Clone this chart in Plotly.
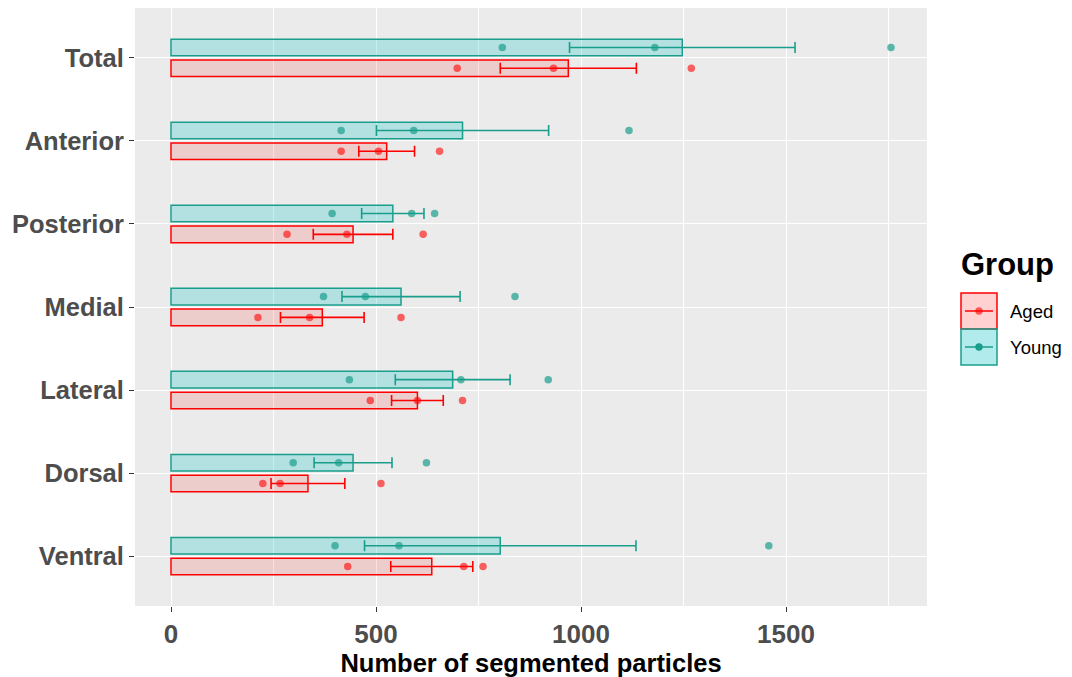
import plotly.graph_objects as go

# ---------------- data ----------------
categories = ["Total", "Anterior", "Posterior", "Medial", "Lateral", "Dorsal", "Ventral"]
groups = ["Aged", "Young"]

aged_mean = [969, 526, 444, 369, 601, 334, 636]
aged_se = [166, 68, 97, 102, 63, 90, 100]
young_mean = [1247, 711, 541, 561, 687, 444, 803]
young_se = [275, 210, 76, 144, 140, 95, 331]

aged_points = [
    [698, 933, 1269],
    [415, 506, 655],
    [283, 429, 615],
    [212, 338, 561],
    [486, 601, 711],
    [224, 266, 512],
    [431, 714, 761],
]
young_points = [
    [808, 1180, 1756],
    [415, 592, 1117],
    [393, 587, 643],
    [372, 474, 839],
    [435, 707, 920],
    [298, 409, 623],
    [400, 556, 1458],
]

x_ticks = [0, 500, 1000, 1500]
x_title = "Number of segmented particles"
legend_title = "Group"

# ---------------- styling ----------------
FONT = "Liberation Sans, Arial, sans-serif"
RED = "#FF0000"
TEAL = "#1A9E8C"
RED_FILL = "rgba(255,0,0,0.13)"
TEAL_FILL = "rgba(0,190,190,0.24)"
RED_PT = "rgba(255,0,0,0.6)"
TEAL_PT = "rgba(26,158,140,0.7)"

# page body has an 8px margin; size the figure so the panel lands where
# the reference has it
OFF = 8
W, H = 1072 - OFF, 677 - OFF
ML, MR, MT, MB = 135 - OFF, 145, 0, 71
PW, PH = W - ML - MR, H - MT - MB

n = len(categories)
pos = [n - 1 - i for i in range(n)]  # Total at the top
dodge = 0.125
bar_w = 0.2

y_aged = [p - dodge for p in pos]
y_young = [p + dodge for p in pos]

fig = go.Figure()

specs = [
    ("Aged", aged_mean, aged_se, aged_points, y_aged, RED, RED_FILL, RED_PT),
    ("Young", young_mean, young_se, young_points, y_young, TEAL, TEAL_FILL, TEAL_PT),
]

for name, mean, se, pts, ys, line_c, fill_c, pt_c in specs:
    fig.add_trace(go.Bar(
        name=name, x=mean, y=ys, orientation="h", width=bar_w,
        marker=dict(color=fill_c, line=dict(color=line_c, width=1.5)),
        error_x=dict(type="data", array=se, visible=True, color=line_c,
                     thickness=1.6, width=5.5),
        showlegend=False, hoverinfo="x+name",
    ))

for name, mean, se, pts, ys, line_c, fill_c, pt_c in specs:
    px_, py_ = [], []
    for yy, row in zip(ys, pts):
        for v in row:
            px_.append(v)
            py_.append(yy)
    fig.add_trace(go.Scatter(
        name=name, x=px_, y=py_, mode="markers",
        marker=dict(color=pt_c, size=7.5, line=dict(width=0)),
        showlegend=False,
    ))

# x range like ggplot's 5% expansion of [0, max]
all_max = max(max(r) for r in aged_points + young_points)
all_max = max(all_max, max(m + s for m, s in zip(young_mean, young_se)))
pad = 0.05 * all_max
x_range = [-pad, all_max + pad]

fig.update_layout(
    width=W, height=H,
    margin=dict(l=ML, r=MR, t=MT, b=MB, pad=0),
    paper_bgcolor="white", plot_bgcolor="#EBEBEB",
    barmode="overlay",
    font=dict(family=FONT),
    showlegend=False,
)

fig.update_xaxes(
    range=x_range, tickvals=x_ticks, ticktext=[str(t) for t in x_ticks],
    showgrid=True, gridcolor="white", gridwidth=1.4,
    minor=dict(dtick=250, tick0=0, showgrid=True, gridcolor="white", gridwidth=0.7),
    zeroline=False, showline=False,
    ticks="outside", ticklen=5, tickwidth=1, tickcolor="#333333",
    tickfont=dict(family=FONT, size=26, color="#4D4D4D", weight="bold"),
    title=dict(text=x_title, font=dict(family=FONT, size=25.5, color="black", weight="bold"),
               standoff=4),
)
fig.update_yaxes(
    range=[-0.6, n - 1 + 0.6], tickvals=pos, ticktext=categories,
    showgrid=True, gridcolor="white", gridwidth=1.4,
    zeroline=False, showline=False,
    ticks="outside", ticklen=5, tickwidth=1, tickcolor="#333333",
    tickfont=dict(family=FONT, size=25.5, color="#4D4D4D", weight="bold"),
)

# ---------------- custom legend (ggplot-style keys) ----------------
def px2x(p):
    return (p - OFF - ML) / PW

def py2y(p):
    return (H - MB - (p - OFF)) / PH

fig.add_annotation(text=legend_title, xref="paper", yref="paper",
                   x=px2x(959), y=py2y(264), xanchor="left", yanchor="middle",
                   showarrow=False, font=dict(family=FONT, size=31, color="black", weight="bold"))

key_x0, key_x1 = 961, 997
key_rows = [(293, 329, RED, "rgba(255,0,0,0.18)", RED_PT, groups[0]),
            (329, 365, TEAL, "rgba(0,190,190,0.3)", TEAL, groups[1])]
for y0, y1, lc, fc, pc, label in key_rows:
    cy = (y0 + y1) / 2
    fig.add_shape(type="rect", xref="paper", yref="paper",
                  x0=px2x(key_x0), x1=px2x(key_x1), y0=py2y(y1), y1=py2y(y0),
                  fillcolor=fc, line=dict(color=lc, width=1.5), layer="above")
    fig.add_shape(type="line", xref="paper", yref="paper",
                  x0=px2x(key_x0 + 4), x1=px2x(key_x1 - 4), y0=py2y(cy), y1=py2y(cy),
                  line=dict(color=lc, width=1.5), layer="above")
    fig.add_shape(type="circle", xref="paper", yref="paper",
                  x0=px2x((key_x0 + key_x1) / 2 - 3.7), x1=px2x((key_x0 + key_x1) / 2 + 3.7),
                  y0=py2y(cy + 3.7), y1=py2y(cy - 3.7),
                  fillcolor=pc, line=dict(width=0), layer="above")
    fig.add_annotation(text=label, xref="paper", yref="paper",
                       x=px2x(1008), y=py2y(cy), xanchor="left", yanchor="middle",
                       showarrow=False, font=dict(family=FONT, size=18.5, color="black"))

fig.write_html("out.html")
